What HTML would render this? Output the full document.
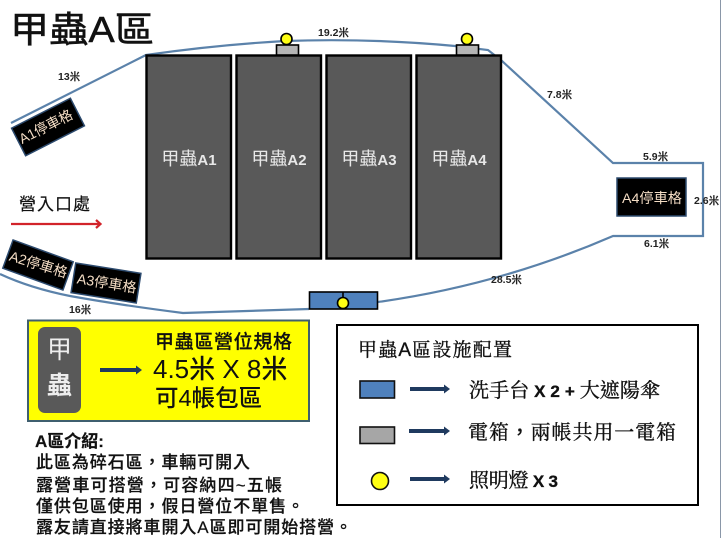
<!DOCTYPE html>
<html><head><meta charset="utf-8"><style>
html,body{margin:0;padding:0;background:#fff;width:721px;height:538px;overflow:hidden}
svg{display:block}
text{font-family:"Liberation Sans","Noto Sans CJK TC",sans-serif}
.s{font-family:"Liberation Sans","Noto Serif CJK TC","Noto Serif CJK SC",serif;fill:#111;stroke:#111;stroke-width:.35px}
.d{font-size:10.5px;font-weight:700;fill:#222}
.p{fill:#f3dcc4;font-size:14px}
.b{fill:#e8e8e8;font-size:18px;text-anchor:middle}
.b tspan{font-weight:700;font-size:15px}
.i{font-size:17px;fill:#111;font-weight:500;stroke:#111;stroke-width:.2px}
</style></head><body>
<svg width="721" height="538" viewBox="0 0 721 538" xmlns="http://www.w3.org/2000/svg">
<rect width="721" height="538" fill="#fff"/>
<rect x="720" y="0" width="1" height="538" fill="#8a97a8"/>
<text x="10" y="42" font-size="36" fill="#111" stroke="#111" stroke-width=".5" textLength="144" lengthAdjust="spacingAndGlyphs">甲蟲A區</text>
<path d="M11 123L146 55Q215 45 285 41Q370 38 455 46L488 50L502 61L613 163H703V236H613Q500 285 378 302M309 309L183 313Q120 305 70 296Q30 288 0 274" fill="none" stroke="#5b82aa" stroke-width="2.200"/>
<g fill="#595959" stroke="#000" stroke-width="2.400">
<rect x="146.500" y="55.500" width="84.500" height="203"/>
<rect x="236.500" y="55.500" width="84.500" height="203"/>
<rect x="326.500" y="55.500" width="84.500" height="203"/>
<rect x="416.500" y="55.500" width="84.500" height="203"/>
</g>
<text class="b" x="189" y="165">甲蟲<tspan>A1</tspan></text>
<text class="b" x="279" y="165">甲蟲<tspan>A2</tspan></text>
<text class="b" x="369" y="165">甲蟲<tspan>A3</tspan></text>
<text class="b" x="459" y="165">甲蟲<tspan>A4</tspan></text>
<g stroke="#000" stroke-width="1.600">
<rect x="276.500" y="45" width="22" height="10" fill="#b5b5b5"/>
<rect x="456.500" y="45" width="22" height="10" fill="#b5b5b5"/>
<circle cx="286.500" cy="39" r="5.500" fill="#ffff14"/>
<circle cx="467" cy="39" r="5.500" fill="#ffff14"/>
<rect x="309.500" y="292" width="68" height="17" fill="#4f81bd"/>
<line x1="343" y1="292" x2="343" y2="309"/>
<circle cx="343" cy="303" r="5.500" fill="#ffff14"/>
</g>
<text class="d" x="58" y="80">13米</text>
<text class="d" x="318" y="36">19.2米</text>
<text class="d" x="547" y="98">7.8米</text>
<text class="d" x="643" y="160">5.9米</text>
<text class="d" x="694" y="204">2.6米</text>
<text class="d" x="644" y="247">6.1米</text>
<text class="d" x="491" y="283">28.5米</text>
<text class="d" x="69" y="313">16米</text>
<g stroke="#2c4a6e" stroke-width="1.500" fill="#000">
<rect x="-33" y="-15.500" width="66" height="31" transform="translate(48 127) rotate(-27)"/>
<rect x="-32" y="-15" width="64" height="30" transform="translate(38 265) rotate(20)"/>
<rect x="-33" y="-15" width="66" height="30" transform="translate(106 283) rotate(9)"/>
<rect x="617" y="178" width="69" height="38"/>
</g>
<text class="p" text-anchor="middle" textLength="58" lengthAdjust="spacingAndGlyphs" transform="translate(48 131) rotate(-27)" x="0" y="0">A1停車格</text>
<text class="p" text-anchor="middle" textLength="60" lengthAdjust="spacingAndGlyphs" transform="translate(37 269) rotate(17)" x="0" y="0">A2停車格</text>
<text class="p" text-anchor="middle" textLength="60" lengthAdjust="spacingAndGlyphs" transform="translate(106 288) rotate(9)" x="0" y="0">A3停車格</text>
<text class="p" x="622" y="203" textLength="60" lengthAdjust="spacingAndGlyphs">A4停車格</text>
<text x="19" y="210" font-size="17" fill="#111" stroke="#111" stroke-width=".2" textLength="71">營入口處</text>
<path d="M11 224H100" stroke="#d2232a" stroke-width="2.200"/>
<path d="M96 220L100.500 224L96 228" fill="none" stroke="#d2232a" stroke-width="2.200"/>
<rect x="28" y="320.500" width="281" height="100.500" fill="#ffff00" stroke="#3f5f6f" stroke-width="2"/>
<rect x="38" y="327" width="43" height="86" rx="7" fill="#595959"/>
<text x="59.500" y="358" text-anchor="middle" font-size="25" fill="#eee">甲</text>
<text x="59.500" y="394" text-anchor="middle" font-size="25" fill="#eee" font-weight="700">蟲</text>
<path d="M100 368H136V365.500L142 370L136 374.500V372H100z" fill="#1f3a5f"/>
<text x="155" y="348" font-size="19" font-weight="500" fill="#111" stroke="#111" stroke-width=".2" textLength="137">甲蟲區營位規格</text>
<text x="153" y="378" font-size="26" font-weight="500" fill="#111">4.5米 X 8米</text>
<text x="155" y="406" font-size="23.500" font-weight="500" fill="#111">可4帳包區</text>
<text class="i" x="35" y="447" style="font-weight:700">A區介紹:</text>
<text class="i" x="36" y="468" textLength="214">此區為碎石區，車輛可開入</text>
<text class="i" x="36" y="491" textLength="246">露營車可搭營，可容納四~五帳</text>
<text class="i" x="36" y="512" textLength="268">僅供包區使用，假日營位不單售。</text>
<text class="i" x="36" y="533" textLength="316">露友請直接將車開入A區即可開始搭營。</text>
<rect x="337" y="325" width="361" height="180" fill="#fff" stroke="#000" stroke-width="2"/>
<text class="s" x="358" y="356" font-size="19" textLength="154">甲蟲A區設施配置</text>
<rect x="360" y="381" width="34.500" height="17" fill="#4f81bd" stroke="#111" stroke-width="1.600"/>
<rect x="360" y="427" width="34.500" height="16.500" fill="#a6a6a6" stroke="#111" stroke-width="1.600"/>
<circle cx="380" cy="481" r="8.500" fill="#ffff14" stroke="#111" stroke-width="1.600"/>
<g fill="#1f3a5f">
<path d="M410 387H444V384.500L450 389L444 393.500V391H410z"/>
<path d="M409 429H444V426.500L450 431L444 435.500V433H409z"/>
<path d="M410 477H444V474.500L450 479L444 483.500V481H410z"/>
</g>
<text class="s" x="469" y="397" font-size="20" textLength="191">洗手台<tspan font-weight="700" font-family="Liberation Sans" font-size="17"> X 2 + </tspan>大遮陽傘</text>
<text class="s" x="468" y="439" font-size="20" textLength="208">電箱<tspan font-family="Noto Sans CJK TC">，</tspan>兩帳共用一電箱</text>
<text class="s" x="469" y="487" font-size="20" textLength="89">照明燈<tspan font-weight="700" font-family="Liberation Sans" font-size="17"> X 3</tspan></text>
</svg>
</body></html>
